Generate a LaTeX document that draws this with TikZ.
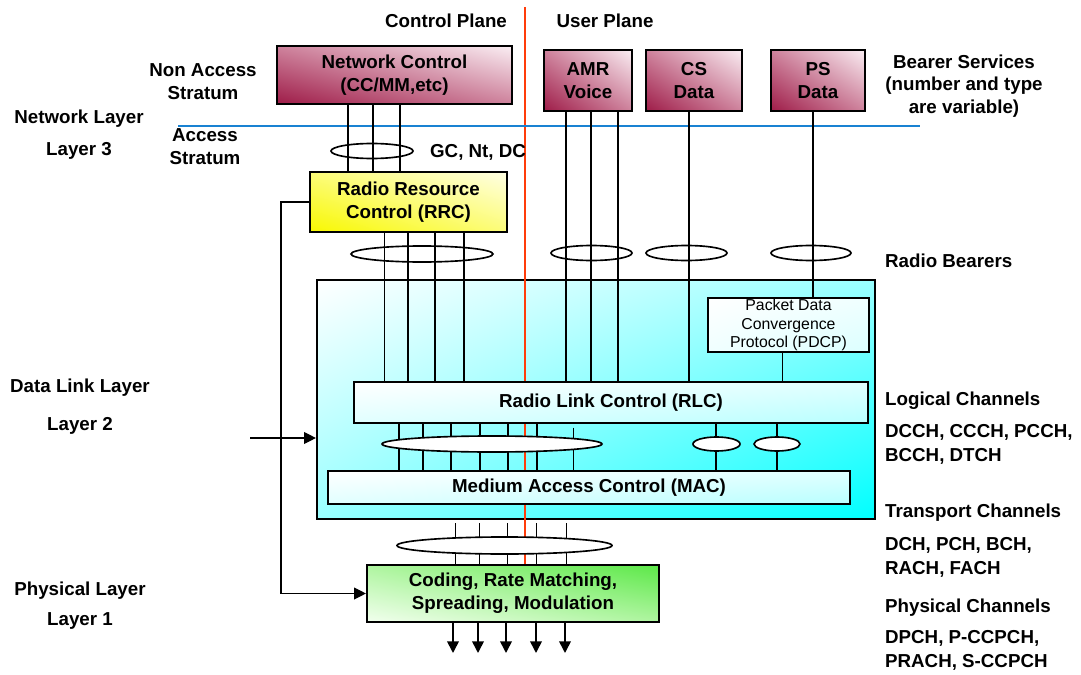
\documentclass[tikz,border=0pt]{standalone}
\usepackage{fontspec}
\setmainfont{Liberation Sans}
\usetikzlibrary{arrows.meta,shapes.geometric,shadings}

\definecolor{rosedark}{RGB}{158,28,72}
\definecolor{rosemid}{RGB}{206,130,156}
\definecolor{roselight}{RGB}{250,238,243}
\definecolor{rrcdark}{RGB}{248,248,0}
\definecolor{rrcmid}{RGB}{252,252,120}
\definecolor{rrclight}{RGB}{255,255,228}
\definecolor{phylight}{RGB}{242,255,238}
\definecolor{phymid}{RGB}{175,245,160}
\definecolor{phydark}{RGB}{92,232,72}
\definecolor{planered}{RGB}{255,60,10}
\definecolor{strataline}{RGB}{25,130,210}

\begin{document}
\begin{tikzpicture}[x=0.03cm, y=-0.03cm, >={Triangle[width=10pt,length=10pt]},
  every node/.style={font=\fontsize{16}{19.5}\selectfont\bfseries},
  box/.style={draw, line width=1.8pt, inner sep=0pt, align=center},
  subbox/.style={draw, line width=0.9pt, inner sep=0pt, align=center},
  rosebox/.style={box, lower left=rosedark, upper right=roselight, upper left=rosemid, lower right=rosemid},
  cyanbox/.style={subbox, upper left=white, lower right=cyan!28, upper right=cyan!12, lower left=cyan!12},
  bundle/.style={draw, ellipse, fill=white, line width=1.4pt, inner sep=0pt},
  bus/.style={line width=1.4pt},
  thinbus/.style={line width=0.7pt},
  lbl/.style={align=center},
  chan/.style={anchor=west, align=left, font=\fontsize{16}{20.5}\selectfont\bfseries}]
  \useasboundingbox (0,0) rectangle (1081,675);

  % 1. 各层方框
  \node[rosebox, minimum width=7.05cm, minimum height=1.74cm] (nc) at (394.5,75) {Network Control\\(CC/MM,etc)};
  \node[rosebox, minimum width=2.64cm, minimum height=1.83cm] (amr) at (588,80.5) {AMR\\Voice};
  \node[rosebox, minimum width=2.88cm, minimum height=1.83cm] (csd) at (694,80.5) {CS\\Data};
  \node[rosebox, minimum width=2.82cm, minimum height=1.83cm] (psd) at (818,80.5) {PS\\Data};
  \node[box, lower left=rrcdark, upper right=rrclight, upper left=rrcmid, lower right=rrcmid,
        minimum width=5.91cm, minimum height=1.8cm] (rrc) at (408.5,202) {Radio Resource\\Control (RRC)};
  \node[box, lower left=phylight, upper right=phydark, upper left=phymid, lower right=phymid,
        minimum width=8.76cm, minimum height=1.71cm] (phy) at (513,593.5) {Coding, Rate Matching,\\Spreading, Modulation};
  \node[box, upper left=white, lower right=cyan, upper right=cyan!40, lower left=cyan!40,
        minimum width=16.74cm, minimum height=7.17cm] (l2) at (596,399.5) {};

  % 2. 平面分界线与层界线
  \coordinate (cptop) at (525,7);
  \draw[planered, line width=1.6pt] (cptop) -- (cptop |- phy.north);
  \coordinate (asleft) at (178,126);
  \coordinate (asright) at (920,126);
  \draw[strataline, line width=1.7pt] (asleft) -- (asright);

  % 3. 第二层内部
  \node[subbox, upper left=white, lower right=cyan!14, upper right=cyan!6, lower left=cyan!6,
        font=\fontsize{13.5}{16}\selectfont, minimum width=4.83cm, minimum height=1.62cm] (pdcp)
        at (788.5,325) {Packet Data\\Convergence\\Protocol (PDCP)};
  \node[cyanbox, minimum width=15.42cm, minimum height=1.23cm] (rlc) at (611,402.5) {Radio Link Control (RLC)};
  \node[cyanbox, minimum width=15.66cm, minimum height=0.99cm] (mac) at (589,487.5) {Medium Access Control (MAC)};

  % 4. 上层承载椭圆
  \node[bundle, minimum width=2.46cm, minimum height=0.45cm] (gcnt) at (372,151) {};
  \node[bundle, minimum width=4.26cm, minimum height=0.48cm] (rbcp) at (422,254) {};
  \node[bundle, minimum width=2.43cm, minimum height=0.45cm] (rbamr) at (591.5,253) {};
  \node[bundle, minimum width=2.43cm, minimum height=0.45cm] (rbcs) at (686.5,253) {};
  \node[bundle, minimum width=2.40cm, minimum height=0.45cm] (rbps) at (811,253) {};

  % 5. 连线
  \foreach \x in {348,373,400}
    \draw[line width=1pt] (\x,0 |- nc.south) -- (\x,0 |- rrc.north);
  \draw[thinbus] (384,0 |- rrc.south) -- (384,0 |- rlc.north);
  \foreach \x in {408,435,464}
    \draw[bus] (\x,0 |- rrc.south) -- (\x,0 |- rlc.north);
  \foreach \x in {566,591,618}
    \draw[bus] (\x,0 |- amr.south) -- (\x,0 |- rlc.north);
  \draw[bus] (689,0 |- csd.south) -- (689,0 |- rlc.north);
  \draw[bus] (813,0 |- psd.south) -- (813,0 |- pdcp.north);
  \draw[thinbus] (782,0 |- pdcp.south) -- (782,0 |- rlc.north);
  \foreach \x in {399,423,451,480,508,537,716,777}
    \draw[bus] (\x,0 |- rlc.south) -- (\x,0 |- mac.north);
  \draw[thinbus] (573,0 |- rlc.south) ++(0,4) -- (573,0 |- mac.north);
  \foreach \x in {455,479,507,536,566}
    \draw[thinbus] (\x,0 |- l2.south) ++(0,3) -- (\x,0 |- phy.north);
  \foreach \x in {453,478,506,536,565}
    \draw[bus, ->] (\x,0 |- phy.south) -- (\x,653);

  % 6. 下层信道椭圆
  \node[bundle, minimum width=6.6cm, minimum height=0.48cm] (logch) at (492,444) {};
  \node[bundle, minimum width=1.41cm, minimum height=0.42cm] (logdt) at (716.5,444) {};
  \node[bundle, minimum width=1.38cm, minimum height=0.42cm] (logps) at (777,444) {};
  \node[bundle, minimum width=6.45cm, minimum height=0.51cm] (trch) at (504.5,545.5) {};

  % 7. RRC 控制线
  \draw[line width=1pt, ->] (rrc.west) -- ++(-28,0) |- (phy.west);
  \coordinate (ctlin) at (250,438);
  \draw[line width=1pt, ->] (ctlin) -- (l2.west |- ctlin);

  % 8. 文字标注
  \node (cplane) at (446,21) {Control Plane};
  \node (uplane) at (605,21) {User Plane};
  \node[anchor=west] (gclbl) at (426,152) {GC, Nt, DC};
  \node[lbl] (nas) at (203,81.5) {Non Access\\Stratum};
  \node[lbl] (acs) at (205,146.5) {Access\\Stratum};
  \node (netl) at (79,119) {Network Layer};
  \node (lay3) at (79,151) {Layer 3};
  \node (dll) at (80,388) {Data Link Layer};
  \node (lay2) at (80,426) {Layer 2};
  \node (phl) at (80,591) {Physical Layer};
  \node (lay1) at (80,621) {Layer 1};
  \node[lbl] (bsv) at (964,86) {Bearer Services\\(number and type\\are variable)};
  \node[chan] (rbl) at (881,261) {Radio Bearers};
  \node[chan] (lgl) at (881,401) {Logical Channels};
  \node[chan] (lgn) at (881,444.5) {DCCH, CCCH, PCCH,\\BCCH, DTCH};
  \node[chan] (trl) at (881,513) {Transport Channels};
  \node[chan] (trn) at (881,557.5) {DCH, PCH, BCH,\\RACH, FACH};
  \node[chan] (pyl) at (881,608) {Physical Channels};
  \node[chan] (pyn) at (881,650) {DPCH, P-CCPCH,\\PRACH, S-CCPCH};
\end{tikzpicture}
\end{document}
